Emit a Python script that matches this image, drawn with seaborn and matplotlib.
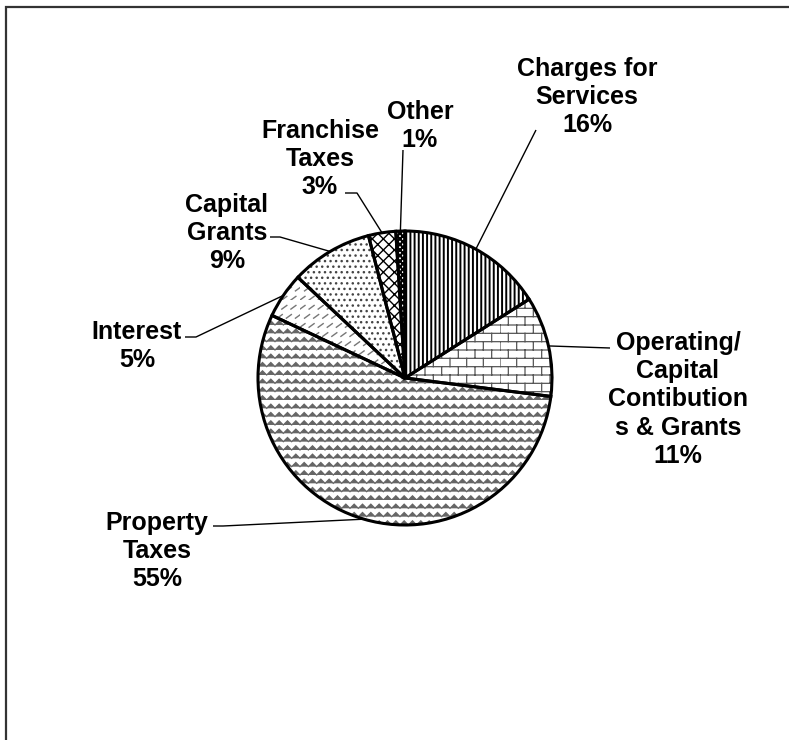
import warnings
import numpy as np
import matplotlib
matplotlib.use('Agg')
import matplotlib.pyplot as plt
from matplotlib import hatch as mhatch
from matplotlib.path import Path
from matplotlib.patches import Rectangle
import seaborn as sns

warnings.filterwarnings('ignore')

# data
categories = ['Charges for\nServices', 'Operating/\nCapital\nContibution\ns & Grants',
              'Property\nTaxes', 'Interest', 'Capital\nGrants', 'Franchise\nTaxes', 'Other']
shares = [16, 11, 55, 5, 9, 3, 1]
pct_labels = ['16%', '11%', '55%', '5%', '9%', '3%', '1%']

# layout (pixels from top-left of the 789x740 picture)
W, H = 789, 740
pie_center = (405, 378)
pie_radius = 147
label_top = [(587, 57), (678, 331), (157, 511), (137, 320), (227, 193), (320, 119), (420, 100)]
leader_start = [(536, 130), (610, 348), (213, 526), (185, 337), (270, 237), (345, 193), (403, 150)]
leader_elbow = [0, 0, 10, 11, 10, 12, 0]
hatches = ['||||', 'b', 'z', 'd', '...', 'xxx', 'xxxxxx']
hatch_colors = ['black', '#555555', '#666666', '#777777', '#444444', 'black', 'black']
hatch_widths = [1.4, 0.9, 0.9, 1.0, 1.0, 1.0, 1.5]


# extra hatch patterns: bricks, zigzag rows, short diagonal dashes
class BrickHatch(mhatch.HatchPatternBase):
    def __init__(self, hatch, density):
        self.rows = hatch.count('b') * 12
        self.cols = self.rows // 2
        self.num_vertices = 2 * self.rows + 2 * self.rows * self.cols

    def set_vertices_and_codes(self, vertices, codes):
        h = 1.0 / self.rows
        w = 1.0 / self.cols
        v = []
        for k in range(self.rows):
            y = k * h
            v += [(0, y), (1, y)]
            off = (k % 2) * w / 2
            for j in range(self.cols):
                x = j * w + off
                v += [(x, y), (x, y + h)]
        vertices[:] = v
        codes[0::2] = Path.MOVETO
        codes[1::2] = Path.LINETO


class ZigzagHatch(mhatch.HatchPatternBase):
    def __init__(self, hatch, density):
        self.n = hatch.count('z') * 12
        self.num_vertices = self.n * (2 * self.n + 1)

    def set_vertices_and_codes(self, vertices, codes):
        step = 1.0 / self.n
        m = 2 * self.n + 1
        xs = np.linspace(0, 1, m)
        pts = []
        for k in range(self.n):
            ys = k * step + np.where(np.arange(m) % 2 == 0, 0, step / 2)
            pts.append(np.column_stack([xs, ys]))
        vertices[:] = np.vstack(pts)
        codes[:] = Path.LINETO
        codes[0::m] = Path.MOVETO


class DashHatch(mhatch.HatchPatternBase):
    def __init__(self, hatch, density):
        self.n = hatch.count('d') * 11
        self.num_vertices = 2 * self.n * self.n

    def set_vertices_and_codes(self, vertices, codes):
        s = 1.0 / self.n
        v = []
        for k in range(self.n):
            for j in range(self.n):
                x = j * s + (k % 2) * s / 2
                y = k * s
                v += [(x, y), (x + s * 0.55, y + s * 0.4)]
        vertices[:] = v
        codes[0::2] = Path.MOVETO
        codes[1::2] = Path.LINETO


mhatch._hatch_types.extend([BrickHatch, ZigzagHatch, DashHatch])

sns.set_theme(style='white')
plt.rcParams['font.family'] = ['Liberation Sans', 'DejaVu Sans']
plt.rcParams['hatch.linewidth'] = 1.0

fig = plt.figure(figsize=(W / 100, H / 100), dpi=100)
ax = fig.add_axes([0, 0, 1, 1])

cx, cy = pie_center[0], H - pie_center[1]
fills, _ = ax.pie(shares, startangle=90, counterclock=False, center=(cx, cy),
                  radius=pie_radius, colors=['white'] * len(shares),
                  wedgeprops=dict(linewidth=0))
for w, hp, hc, hw in zip(fills, hatches, hatch_colors, hatch_widths):
    w.set_hatch(hp)
    w.set_edgecolor(hc)
    w.set_linewidth(0)
    if hasattr(w, 'set_hatch_linewidth'):
        w.set_hatch_linewidth(hw)

outlines, _ = ax.pie(shares, startangle=90, counterclock=False, center=(cx, cy),
                     radius=pie_radius,
                     wedgeprops=dict(fill=False, edgecolor='black', linewidth=2.2))

for i, w in enumerate(outlines):
    mid = np.deg2rad((w.theta1 + w.theta2) / 2)
    rim = (cx + pie_radius * np.cos(mid), cy + pie_radius * np.sin(mid))
    sx, sy = leader_start[i][0], H - leader_start[i][1]
    ex = sx + leader_elbow[i]
    ax.plot([sx, ex, rim[0]], [sy, sy, rim[1]], color='black', lw=1.0, solid_capstyle='butt')
    lx, ly = label_top[i]
    ax.text(lx, H - ly, categories[i] + '\n' + pct_labels[i], ha='center', va='top',
            multialignment='center', fontsize=18, fontweight='bold', linespacing=1.22,
            color='black')

ax.set_xlim(0, W)
ax.set_ylim(0, H)
ax.set_aspect('equal')
ax.axis('off')

# outer frame (only left and top edges fall inside the picture)
fig.add_artist(Rectangle((6 / W, -0.1), 1.2, (H - 7) / H + 0.1, transform=fig.transFigure,
                         fill=False, edgecolor='#333333', linewidth=1.6))

fig.savefig('out.png', dpi=100)
